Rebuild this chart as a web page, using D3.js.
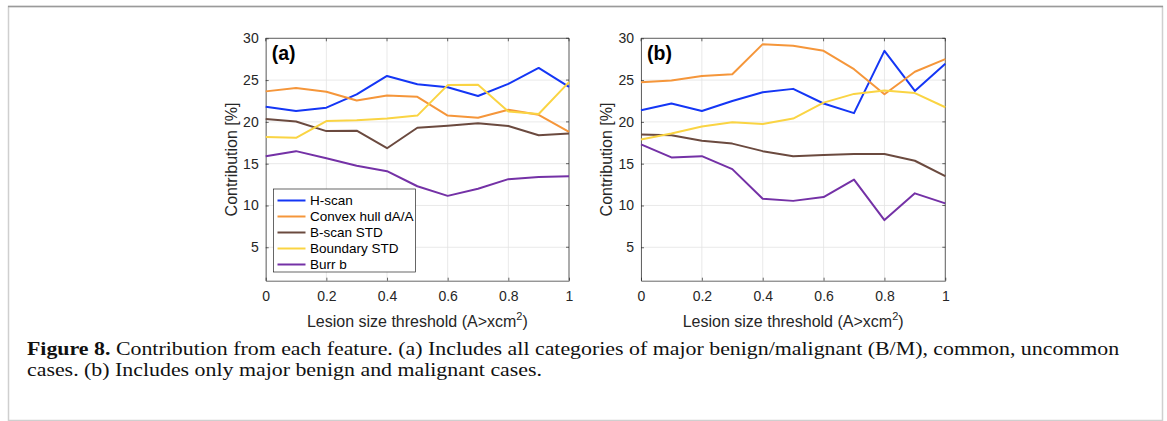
<!DOCTYPE html>
<html><head><meta charset="utf-8">
<script src="https://cdn.jsdelivr.net/npm/d3@7"></script>
<style>
html,body{margin:0;padding:0;background:#fff;}
svg{display:block;}
</style></head>
<body>
<svg id="chart" width="1167" height="421"></svg>
<script>
const xValues = [0,0.1,0.2,0.3,0.4,0.5,0.6,0.7,0.8,0.9,1.0];
const seriesNames = ["H-scan","Convex hull dA/A","B-scan STD","Boundary STD","Burr b"];
const seriesColors = ["#1436f5","#f5963a","#6b4a3f","#fad443","#7431a6"];
// Panel (a)
const aHscan   = [21.8,21.3,21.7,23.3,25.5,24.5,24.15,23.1,24.55,26.45,24.2];
const aConvex  = [23.65,24.05,23.6,22.55,23.15,23.0,20.75,20.5,21.45,20.85,18.8];
const aBscan   = [20.35,20.05,18.9,18.95,16.85,19.3,19.55,19.85,19.5,18.4,18.6];
const aBoundary= [18.2,18.1,20.1,20.2,20.4,20.75,24.4,24.45,21.25,20.95,24.75];
const aBurr    = [15.9,16.5,15.65,14.75,14.1,12.3,11.15,12.0,13.15,13.4,13.5];
// Panel (b)
const bHscan   = [21.4,22.2,21.3,22.5,23.55,23.95,22.2,21.05,28.5,23.7,26.95];
const bConvex  = [24.75,24.95,25.5,25.7,29.3,29.1,28.5,26.3,23.3,26.0,27.5];
const bBscan   = [18.5,18.4,17.75,17.4,16.5,15.9,16.05,16.15,16.15,15.35,13.5];
const bBoundary= [17.9,18.6,19.45,19.95,19.75,20.4,22.3,23.35,23.75,23.45,21.75];
const bBurr    = [17.3,15.75,15.9,14.35,10.8,10.55,11.0,13.1,8.25,11.45,10.25];
const xTicks = [0,0.2,0.4,0.6,0.8,1];
const yTicks = [5,10,15,20,25,30];
const yDomain = [1,30];
const panelLabels = ["(a)","(b)"];
const captionBold = "Figure 8.";
const captionLine1 = " Contribution from each feature. (a) Includes all categories of major benign/malignant (B/M), common, uncommon";
const captionLine2 = "cases. (b) Includes only major benign and malignant cases.";

const svg = d3.select("#chart");
const FONT = "'Liberation Sans', Arial, Helvetica, sans-serif";
const AX = "#262626";

// figure border
svg.append("rect").attr("x",8.5).attr("y",6.5).attr("width",1154).attr("height",414)
  .attr("fill","#fff").attr("stroke","#cfcfcf").attr("stroke-width",1.5);
svg.append("line").attr("x1",8).attr("x2",1163).attr("y1",6.5).attr("y2",6.5)
  .attr("stroke","#9a9a9a").attr("stroke-width",1.5);

const panels = [
  {x0:265.7, x1:569.0, data:[aHscan,aConvex,aBscan,aBoundary,aBurr], legend:true},
  {x0:641.0, x1:945.3, data:[bHscan,bConvex,bBscan,bBoundary,bBurr], legend:false}
];
const yTop = 38.3, yBot = 280.7;

panels.forEach((p, pi) => {
  const x = d3.scaleLinear().domain([0,1]).range([p.x0,p.x1]);
  const y = d3.scaleLinear().domain(yDomain).range([yBot,yTop]);
  const g = svg.append("g");

  // grid
  g.append("g").selectAll("line").data(xTicks).join("line")
    .attr("x1",d=>x(d)).attr("x2",d=>x(d)).attr("y1",yTop).attr("y2",yBot)
    .attr("stroke","#e3e3e3").attr("stroke-width",0.8);
  g.append("g").selectAll("line").data(yTicks).join("line")
    .attr("x1",p.x0).attr("x2",p.x1).attr("y1",d=>y(d)).attr("y2",d=>y(d))
    .attr("stroke","#e3e3e3").attr("stroke-width",0.8);

  // axes
  const xAxis = d3.axisBottom(x).tickValues(xTicks).tickFormat(d3.format("")).tickSizeInner(-3).tickSizeOuter(0).tickPadding(10);
  const yAxis = d3.axisLeft(y).tickValues(yTicks).tickFormat(d3.format("")).tickSizeInner(-3).tickSizeOuter(0).tickPadding(7);
  const gx = g.append("g").attr("transform",`translate(0,${yBot})`).call(xAxis);
  const gy = g.append("g").attr("transform",`translate(${p.x0},0)`).call(yAxis);
  [gx,gy].forEach(a=>{
    a.selectAll("path").attr("stroke",AX).attr("stroke-width",0.7);
    a.selectAll("line").attr("stroke",AX).attr("stroke-width",0.7);
    a.selectAll("text").attr("fill",AX).style("font-family",FONT).style("font-size","14px");
  });
  // top/right box
  g.append("line").attr("x1",p.x0).attr("x2",p.x1).attr("y1",yTop).attr("y2",yTop).attr("stroke",AX).attr("stroke-width",0.7);
  g.append("line").attr("x1",p.x1).attr("x2",p.x1).attr("y1",yTop).attr("y2",yBot).attr("stroke",AX).attr("stroke-width",0.7);
  // top/right ticks
  g.append("g").selectAll("line").data(xTicks).join("line")
    .attr("x1",d=>x(d)).attr("x2",d=>x(d)).attr("y1",yTop).attr("y2",yTop+3).attr("stroke",AX).attr("stroke-width",0.7);
  g.append("g").selectAll("line").data(yTicks).join("line")
    .attr("x1",p.x1).attr("x2",p.x1-3).attr("y1",d=>y(d)).attr("y2",d=>y(d)).attr("stroke",AX).attr("stroke-width",0.7);

  // lines
  const line = d3.line().x((d,i)=>x(xValues[i])).y(d=>y(d));
  p.data.forEach((s,si)=>{
    g.append("path").datum(s).attr("d",line).attr("fill","none")
      .attr("stroke",seriesColors[si]).attr("stroke-width",2).attr("stroke-linejoin","round");
  });

  // panel label
  g.append("text").attr("x",p.x0+6).attr("y",60).text(panelLabels[pi])
    .style("font-family",FONT).style("font-weight","bold").style("font-size","19.5px").attr("fill","#000");

  // axis labels
  const xl = g.append("text").attr("x",(p.x0+p.x1)/2).attr("y",327).attr("text-anchor","middle")
    .style("font-family",FONT).style("font-size","16px").attr("fill",AX);
  xl.append("tspan").text("Lesion size threshold (A>xcm");
  xl.append("tspan").attr("dy",-7).style("font-size","11px").text("2");
  xl.append("tspan").attr("dy",7).text(")");
  g.append("text").attr("transform",`translate(${p.x0-29},${(yTop+yBot)/2}) rotate(-90)`)
    .attr("text-anchor","middle").style("font-family",FONT).style("font-size","16px").attr("fill",AX)
    .text("Contribution [%]");

  if (p.legend) {
    const lx = 273.5, ly = 189, lw = 142, lh = 83;
    const lg = g.append("g");
    lg.append("rect").attr("x",lx).attr("y",ly).attr("width",lw).attr("height",lh)
      .attr("fill","#fff").attr("stroke",AX).attr("stroke-width",0.7);
    seriesNames.forEach((n,i)=>{
      const yy = ly + 11.5 + i*16;
      lg.append("line").attr("x1",lx+4).attr("x2",lx+32).attr("y1",yy).attr("y2",yy)
        .attr("stroke",seriesColors[i]).attr("stroke-width",2);
      lg.append("text").attr("x",lx+36.5).attr("y",yy+4.8).text(n)
        .style("font-family",FONT).style("font-size","13.5px").attr("fill","#000");
    });
  }
});

// caption
const SERIF = "'Liberation Serif','DejaVu Serif',serif";
const c1 = svg.append("text").attr("x",27).attr("y",355).style("font-family",SERIF).style("font-size","18.5px").attr("fill","#111");
c1.append("tspan").style("font-weight","bold").text(captionBold);
c1.append("tspan").text(captionLine1);
svg.append("text").attr("x",27).attr("y",376).style("font-family",SERIF).style("font-size","18.5px").attr("fill","#111")
  .text(captionLine2);
// fit caption widths
(function(){
  const n = c1.node(); const w = n.getComputedTextLength(); const target = 1120-27;
  const s = target / w;
  c1.attr("transform",`translate(27,0) scale(${s},1) translate(-27,0)`);
  svg.selectAll("text").filter(function(){return this.textContent===captionLine2;})
    .attr("transform",`translate(27,0) scale(${s},1) translate(-27,0)`);
})();
</script>
</body></html>
